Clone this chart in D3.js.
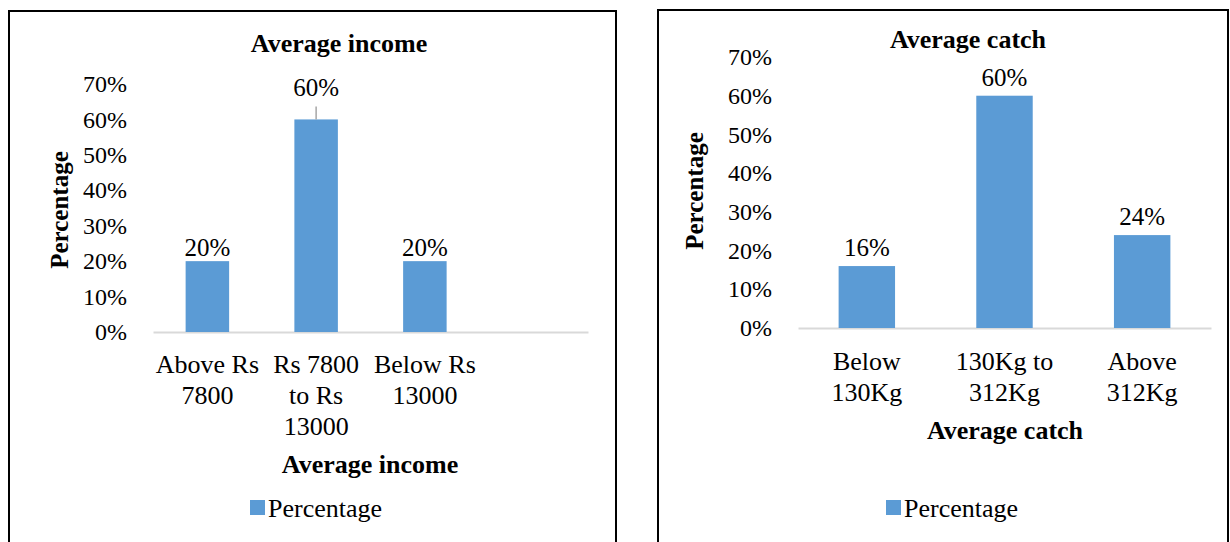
<!DOCTYPE html>
<html>
<head>
<meta charset="utf-8">
<script src="https://cdn.jsdelivr.net/npm/d3@7"></script>
<style>
  body { margin: 0; background: #fff; }
  svg, svg text { font-family: "Liberation Serif", "Times New Roman", serif; }
  svg { display: block; }
</style>
</head>
<body>
<div id="chart"></div>
<script>
// data
const incomeCategories = ["Above Rs\n7800", "Rs 7800\nto Rs\n13000", "Below Rs\n13000"];
const incomeValues = [20, 60, 20];
const catchCategories = ["Below\n130Kg", "130Kg to\n312Kg", "Above\n312Kg"];
const catchValues = [16, 60, 24];
const yTicks = [0, 10, 20, 30, 40, 50, 60, 70];
const seriesName = "Percentage";

const W = 1230, H = 542;
const barColor = "#5B9BD5";

const svg = d3.select("#chart").append("svg")
    .attr("width", W)
    .attr("height", H);

function buildChart(o){
    const g = svg.append("g");

    // panel frame
    g.append("rect")
        .attr("x", o.frame[0]).attr("y", o.frame[1])
        .attr("width", o.frame[2]).attr("height", o.frame[3])
        .attr("fill", "none").attr("stroke", "#000").attr("stroke-width", 2);

    const y = d3.scaleLinear().domain([0, 70]).range([o.y0, o.y70]);
    const x = d3.scaleBand()
        .domain(d3.range(o.slots))
        .range([o.x0, o.x1])
        .paddingInner(o.pad).paddingOuter(o.pad / 2);

    // y axis labels
    const ya = g.append("g")
        .attr("transform", `translate(${o.tickX},0)`)
        .call(d3.axisLeft(y).tickValues(yTicks).tickFormat(d => d + "%").tickSize(0).tickPadding(0))
        .attr("font-family", null)
        .attr("font-size", 24);
    ya.select(".domain").remove();
    ya.selectAll("text").attr("fill", "#000");

    // x axis baseline
    const xa = g.append("g")
        .attr("transform", `translate(0,${o.y0})`)
        .call(d3.axisBottom(x).tickSize(0).tickFormat(""));
    xa.select(".domain").attr("stroke", "#D9D9D9").attr("stroke-width", 2);

    // bars
    g.selectAll("rect.bar")
        .data(o.values)
        .join("rect")
        .attr("class", "bar")
        .attr("x", (d, i) => x(i))
        .attr("y", d => y(d))
        .attr("width", x.bandwidth())
        .attr("height", d => y(0) - y(d))
        .attr("fill", barColor);

    // data labels
    g.selectAll("text.lbl")
        .data(o.values)
        .join("text")
        .attr("class", "lbl")
        .attr("x", (d, i) => x(i) + x.bandwidth() / 2)
        .attr("y", (d, i) => y(d) - (i === o.leader ? 23 : o.labelGap))
        .attr("text-anchor", "middle")
        .attr("font-size", 25)
        .text(d => d + "%");

    if (o.leader != null) {
        const d = o.values[o.leader];
        const cx = x(o.leader) + x.bandwidth() / 2;
        g.append("line")
            .attr("x1", cx).attr("x2", cx)
            .attr("y1", y(d) - 13).attr("y2", y(d))
            .attr("stroke", "#A6A6A6").attr("stroke-width", 1.5);
    }

    // category labels (multi-line)
    const cat = g.selectAll("text.cat")
        .data(o.categories)
        .join("text")
        .attr("class", "cat")
        .attr("text-anchor", "middle")
        .attr("font-size", 26)
        .attr("transform", (d, i) => `translate(${x(i) + x.bandwidth() / 2},${o.catY})`);
    cat.selectAll("tspan")
        .data(d => d.split("\n"))
        .join("tspan")
        .attr("x", 0)
        .attr("y", (d, i) => i * 31)
        .text(d => d);

    // title
    g.append("text")
        .attr("x", o.titlePos[0]).attr("y", o.titlePos[1])
        .attr("text-anchor", "middle")
        .attr("font-weight", "bold")
        .attr("font-size", 26)
        .text(o.title);

    // x axis title
    g.append("text")
        .attr("x", o.xTitlePos[0]).attr("y", o.xTitlePos[1])
        .attr("text-anchor", "middle")
        .attr("font-weight", "bold")
        .attr("font-size", 26)
        .text(o.title);

    // y axis title
    g.append("text")
        .attr("transform", `translate(${o.yTitlePos[0]},${o.yTitlePos[1]}) rotate(-90)`)
        .attr("text-anchor", "middle")
        .attr("font-weight", "bold")
        .attr("font-size", 25)
        .text(seriesName);

    // legend
    const lg = g.append("g").attr("transform", `translate(${o.legendPos[0]},${o.legendPos[1]})`);
    lg.append("rect")
        .attr("x", 0).attr("y", -8)
        .attr("width", 15).attr("height", 15)
        .attr("fill", barColor);
    lg.append("text")
        .attr("x", 18).attr("y", 0)
        .attr("dy", "0.35em")
        .attr("font-size", 26)
        .text(seriesName);
}

buildChart({
    frame: [9, 11, 607, 560],
    categories: incomeCategories,
    values: incomeValues,
    slots: 4,
    pad: 0.6,
    x0: 153, x1: 588,
    y0: 332, y70: 84,
    tickX: 127,
    labelGap: 5,
    leader: 1,
    catY: 373,
    title: "Average income",
    titlePos: [339, 52],
    xTitlePos: [370, 473],
    yTitlePos: [68, 210],
    legendPos: [250, 508]
});

buildChart({
    frame: [658, 10, 570, 560],
    categories: catchCategories,
    values: catchValues,
    slots: 3,
    pad: 0.59,
    x0: 798, x1: 1211,
    y0: 328, y70: 57,
    tickX: 772,
    labelGap: 10,
    leader: null,
    catY: 370,
    title: "Average catch",
    titlePos: [968, 48],
    xTitlePos: [1005, 439],
    yTitlePos: [703, 191],
    legendPos: [886, 508]
});
</script>
</body>
</html>
